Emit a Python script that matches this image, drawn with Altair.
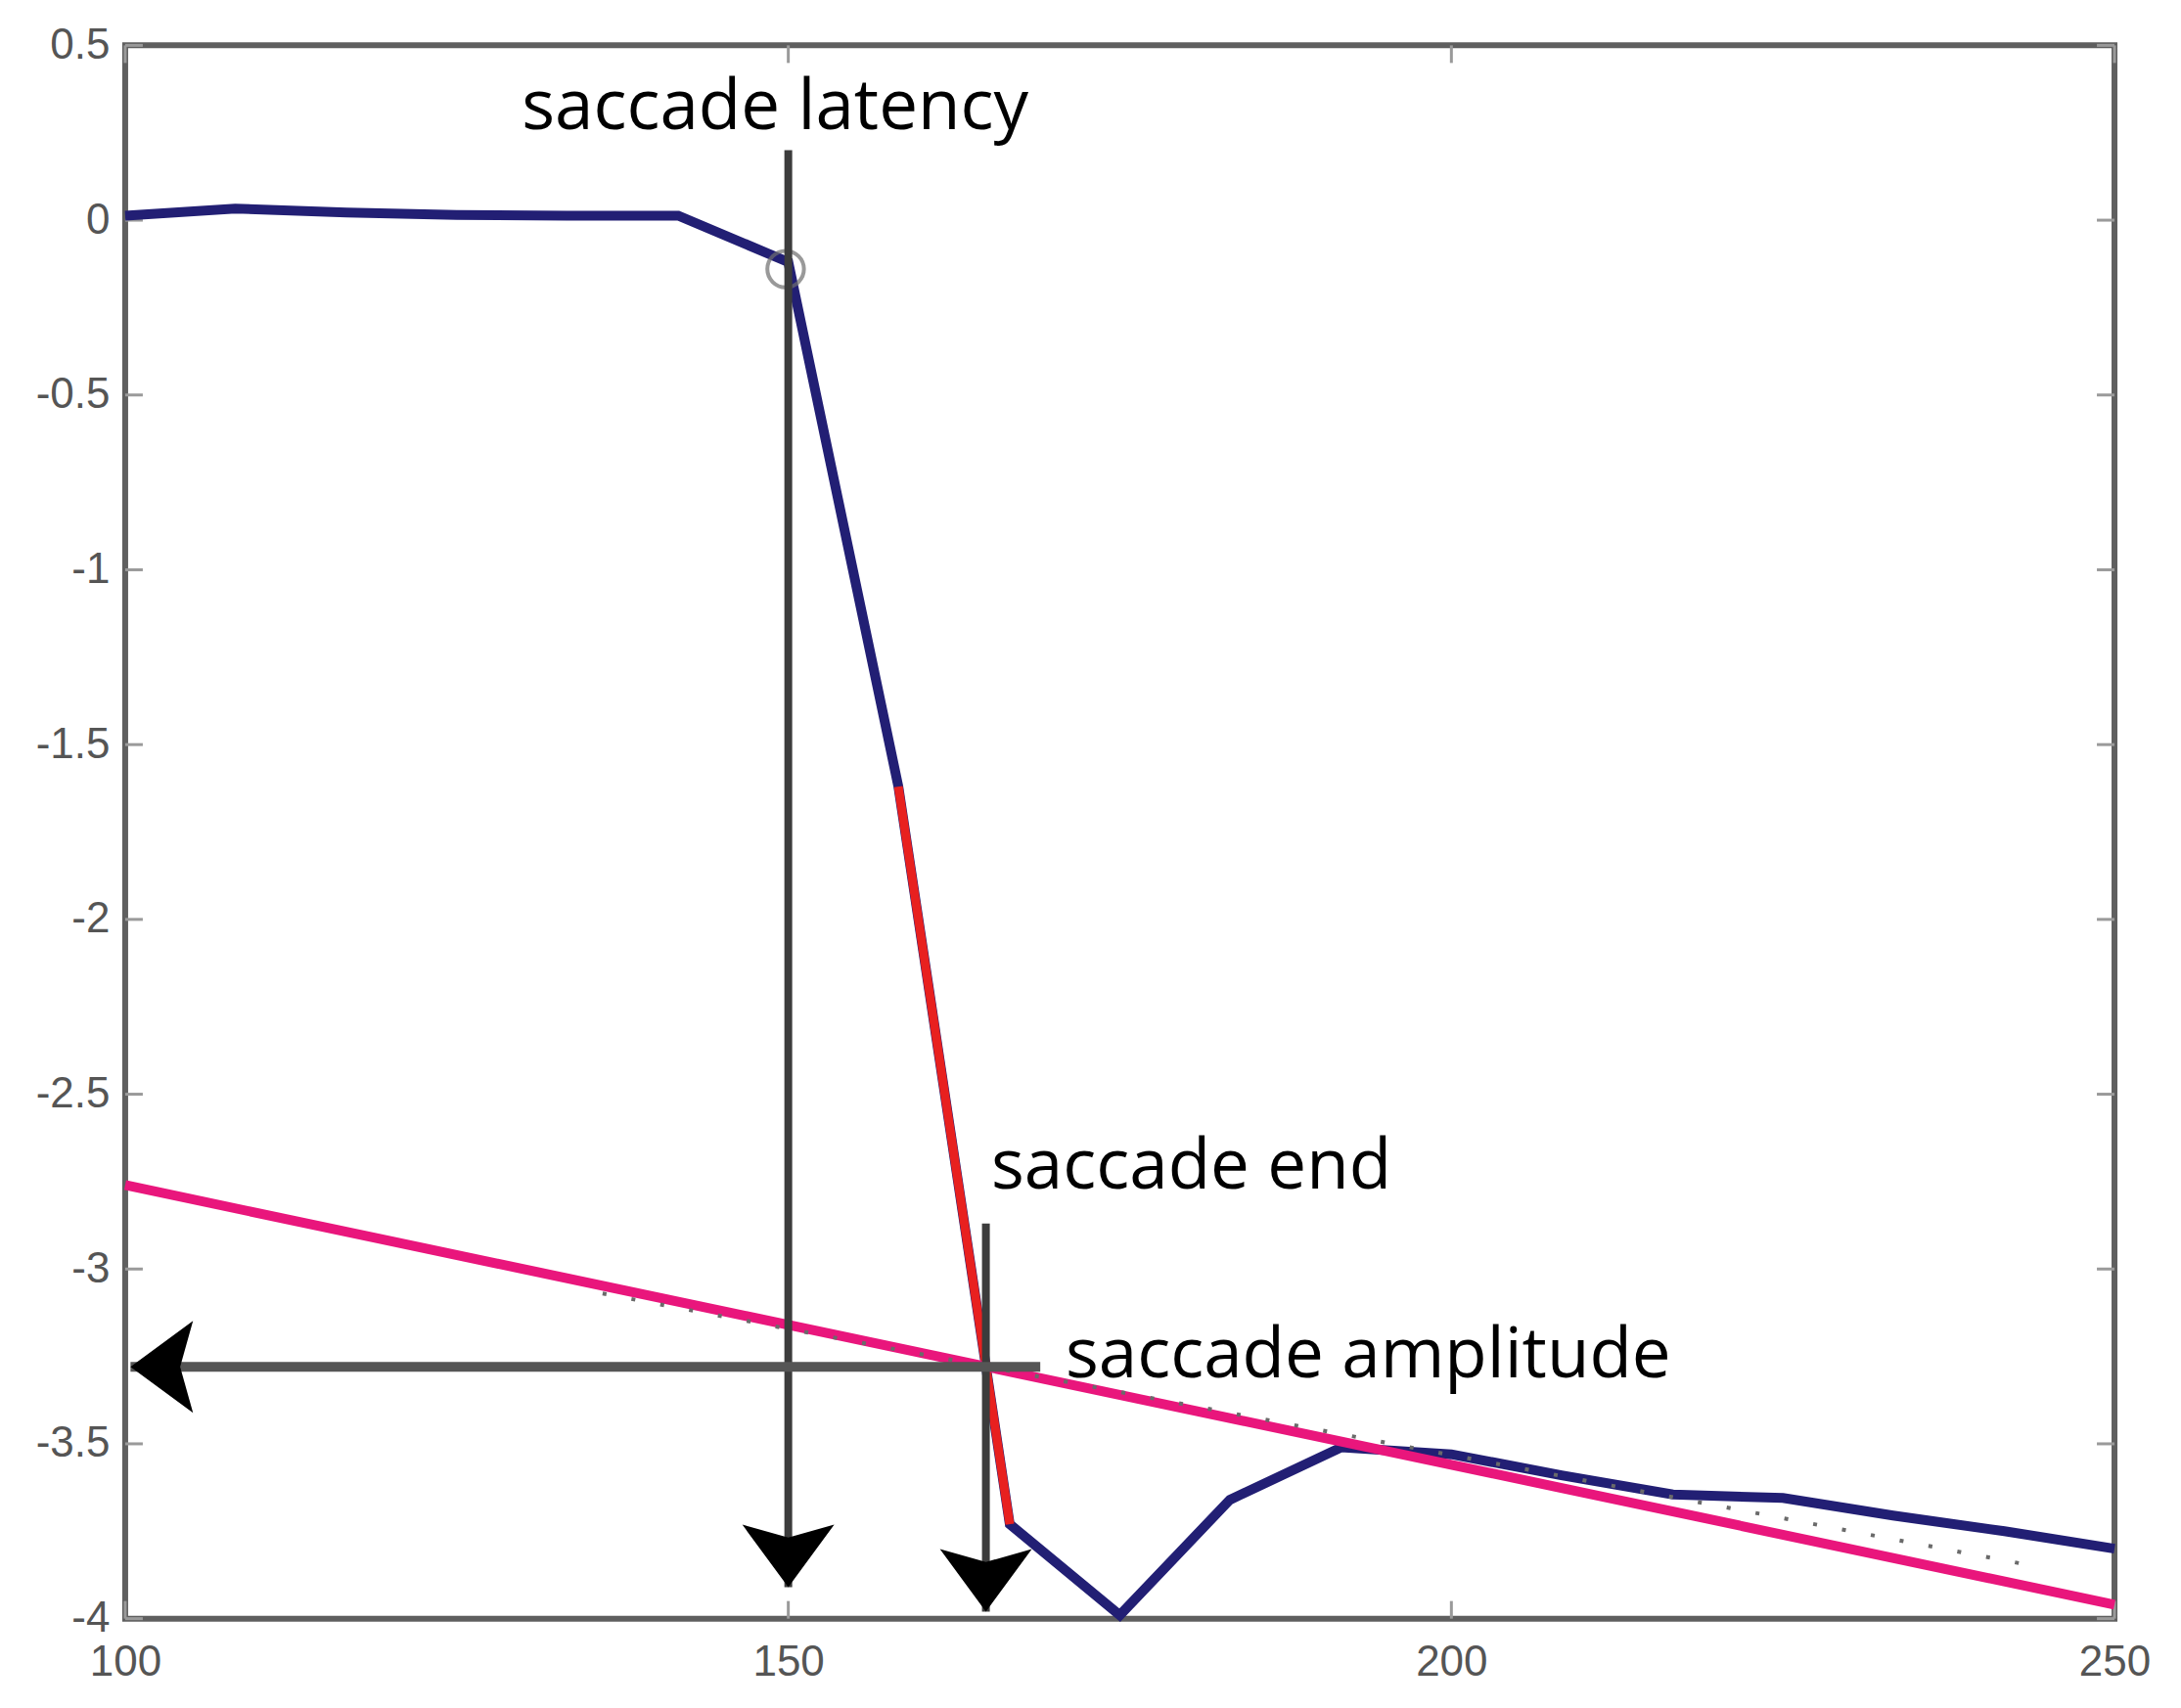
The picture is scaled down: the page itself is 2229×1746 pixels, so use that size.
import altair as alt
import pandas as pd

# ---- data ----
blue_x = [100, 108.3, 116.7, 125, 133.3, 141.7, 150, 158.3, 166.7, 175, 183.3,
          191.7, 200, 208.3, 216.7, 225, 233.3, 241.7, 250]
blue_y = [0.013, 0.033, 0.022, 0.015, 0.013, 0.013, -0.12, -1.62, -3.73, -3.99, -3.66,
          -3.51, -3.53, -3.59, -3.645, -3.655, -3.705, -3.75, -3.80]
red_x = [158.3, 166.7]
red_y = [-1.62, -3.73]
fit_x = [100, 250]
fit_y = [-2.76, -3.96]
dot_x = [136, 244]
dot_y = [-3.07, -3.85]
onset_x = [149.8]
onset_y = [-0.14]

x_ticks = [100, 150, 200, 250]
y_ticks = [0.5, 0, -0.5, -1, -1.5, -2, -2.5, -3, -3.5, -4]

vshaft_x = [150, 164.9]
vshaft_top = [0.2, -2.87]
vshaft_tip = [-3.91, -3.98]
hshaft_y = [-3.28]
hshaft_start = [169.0]
hshaft_tip = [100.4]
head_x = [150, 164.9, 100.4]
head_y = [-3.91, -3.98, -3.28]
head_angle = [0, 0, 90]

label_text = ["saccade latency", "saccade end", "saccade amplitude"]
label_x = [129.9, 165.3, 170.9]
label_y = [0.26, -2.77, -3.31]

# ---- layout ----
W, H = 2034, 1609
TICK = 18
xs = alt.Scale(domain=[100, 250], nice=False, zero=False)
ys = alt.Scale(domain=[-4, 0.5], nice=False, zero=False)
lab_font = "Liberation Sans Narrow, Liberation Sans, Arial"
ax_x = alt.Axis(values=x_ticks, labelExpr="datum.value + ''", ticks=False, domain=False,
                grid=False, labelFontSize=44, labelFont=lab_font, labelColor="#555555",
                labelPadding=23, labelFlush=False, labelOverlap=False, title=None)
ax_y = alt.Axis(values=y_ticks, labelExpr="datum.value + ''", ticks=False, domain=False,
                grid=False, labelFontSize=44, labelFont=lab_font, labelColor="#555555",
                labelPadding=16, labelFlush=False, labelOverlap=False, title=None)

def X(f):
    return alt.X(f, type="quantitative", scale=xs, axis=ax_x)

def Y(f):
    return alt.Y(f, type="quantitative", scale=ys, axis=ax_y)

blue_df = pd.DataFrame({"x": blue_x, "y": blue_y})
red_df = pd.DataFrame({"x": red_x, "y": red_y})
fit_df = pd.DataFrame({"x": fit_x, "y": fit_y})
dot_df = pd.DataFrame({"x": dot_x, "y": dot_y})
onset_df = pd.DataFrame({"x": onset_x, "y": onset_y})
xt_df = pd.DataFrame({"v": x_ticks})
yt_df = pd.DataFrame({"v": y_ticks})
vs_df = pd.DataFrame({"x": vshaft_x, "y": vshaft_top, "y2": vshaft_tip})
hs_df = pd.DataFrame({"x": hshaft_start, "x2": hshaft_tip, "y": hshaft_y})
head_df = pd.DataFrame({"x": head_x, "y": head_y, "a": head_angle})
lab_df = pd.DataFrame({"t": label_text, "x": label_x, "y": label_y})

tick_style = dict(color="#9a9a9a", strokeWidth=3)
xt_bot = alt.Chart(xt_df).mark_rule(**tick_style).encode(x=X("v"), y=alt.value(H), y2=alt.value(H - TICK))
xt_top = alt.Chart(xt_df).mark_rule(**tick_style).encode(x=X("v"), y=alt.value(0), y2=alt.value(TICK))
yt_left = alt.Chart(yt_df).mark_rule(**tick_style).encode(y=Y("v"), x=alt.value(0), x2=alt.value(TICK))
yt_right = alt.Chart(yt_df).mark_rule(**tick_style).encode(y=Y("v"), x=alt.value(W), x2=alt.value(W - TICK))

blue = alt.Chart(blue_df).mark_line(color="#221f74", strokeWidth=10).encode(
    x=X("x"), y=Y("y"), order="x:Q")
red = alt.Chart(red_df).mark_line(color="#e8201f", strokeWidth=9).encode(x=X("x"), y=Y("y"))
fit = alt.Chart(fit_df).mark_line(color="#e9167c", strokeWidth=10).encode(x=X("x"), y=Y("y"))
dots = alt.Chart(dot_df).mark_line(color="#6a6a6a", strokeWidth=4, strokeDash=[4, 26]).encode(
    x=X("x"), y=Y("y"))
onset = alt.Chart(onset_df).mark_point(shape="circle", size=1400, filled=False, color="#6f6f6f",
                                       strokeWidth=4).encode(x=X("x"), y=Y("y"))

vshaft = alt.Chart(vs_df).mark_rule(color="#3c3c3c", strokeWidth=8).encode(
    x=X("x"), y=Y("y"), y2="y2:Q")
hshaft = alt.Chart(hs_df).mark_rule(color="#555555", strokeWidth=10).encode(
    x=X("x"), x2="x2:Q", y=Y("y"))
heads = alt.Chart(head_df).mark_point(
    shape="M0,0 L-1,-1.36 L0,-1.08 L1,-1.36 Z", size=8836, filled=True, color="#000000",
    opacity=1, strokeWidth=0).encode(
    x=X("x"), y=Y("y"), angle=alt.Angle("a:Q", scale=None))

labels = alt.Chart(lab_df).mark_text(font="Open Sans", fontSize=71, color="#000000",
                                     align="left", baseline="alphabetic").encode(
    x=X("x"), y=Y("y"), text="t:N")

chart = alt.layer(
    xt_bot, xt_top, yt_left, yt_right,
    blue, red, fit, dots, onset, vshaft, hshaft, heads, labels
).properties(
    width=W, height=H,
    padding={"left": 120, "top": 38, "right": 60, "bottom": 80},
    autosize=alt.AutoSizeParams(type="none"),
    background="white",
).configure_view(stroke="#5f5f5f", strokeWidth=6)

chart.save("out.html", embed_options={"renderer": "svg", "actions": False})
